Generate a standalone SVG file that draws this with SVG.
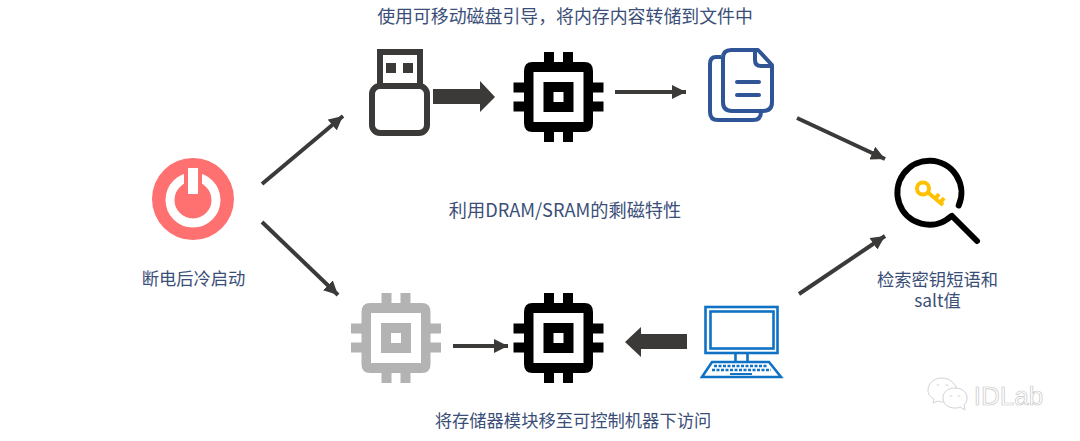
<svg xmlns="http://www.w3.org/2000/svg" xmlns:xlink="http://www.w3.org/1999/xlink" width="1080" height="441" viewBox="0 0 1080 441">
<style>
text{font-family:"Noto Sans CJK SC","Liberation Sans",sans-serif;font-size:17.3px;fill:#3A4E78;text-anchor:middle}
.conn{stroke:#3B3A39;stroke-width:4;fill:none}
.head{fill:#3B3A39}
.blue{fill:none;stroke:#2F5597;stroke-width:4;stroke-linejoin:round}
.mon{fill:none;stroke:#0F72C4;stroke-width:2.6}
</style>
<defs>
<marker id="ah" markerUnits="userSpaceOnUse" markerWidth="16" markerHeight="14" refX="14" refY="7" orient="auto"><path d="M0 0L14 7L0 14z" fill="#3B3A39"/></marker>
<path id="chip" fill-rule="evenodd" d="M-14.500-45H-4.500V-35H4.500V-45H14.500V-35H26Q34.500-35 34.500-26V-14.500H45V-4.500H34.500V4.500H45V14.500H34.500V26Q34.500 35 26 35H14.500V45H4.500V35H-4.500V45H-14.500V35H-26Q-34.500 35-34.500 26V14.500H-45V4.500H-34.500V-4.500H-45V-14.500H-34.500V-26Q-34.500-35-26-35H-14.500ZM-25-25V25H25V-25ZM-15-15H15V15H-15ZM-5-5V5H5V-5Z"/>
</defs>
<g id="connectors">
<path class="conn" marker-end="url(#ah)" d="M262 184L343 116"/>
<path class="conn" marker-end="url(#ah)" d="M262 222L338 295"/>
<path class="conn" marker-end="url(#ah)" d="M797 118L885 159"/>
<path class="conn" marker-end="url(#ah)" d="M799 294L885 236"/>
<path class="conn" marker-end="url(#ah)" d="M615 92L686 92"/>
<path class="conn" marker-end="url(#ah)" d="M453 346L508 346"/>
<path class="head" d="M433 89H480V81L495 97L480 112V104H433Z"/>
<path class="head" d="M687 334H641V327L625 342L641 357V349H687Z"/>
</g>
<g id="power">
<circle cx="193" cy="199" r="41" fill="#FF7070"/>
<circle cx="193" cy="200" r="23" fill="none" stroke="#fff" stroke-width="9"/>
<rect x="184" y="165" width="18" height="32" fill="#FF7070"/>
<rect x="188" y="168" width="10" height="26" fill="#fff"/>
<text x="193.500" y="284.500">断电后冷启动</text>
</g>
<g id="usb" fill="none" stroke="#3B3A39" stroke-width="6">
<path d="M380 85V52H420V85"/>
<rect x="372" y="86" width="55" height="47" rx="8"/>
<rect x="386" y="63" width="10" height="10" fill="#3B3A39" stroke="none"/>
<rect x="403" y="63" width="10" height="10" fill="#3B3A39" stroke="none"/>
</g>
<g id="chip-top"><use href="#chip" xlink:href="#chip" transform="translate(558.500 97)" fill="#000"/></g>
<g id="files">
<path class="blue" d="M721 57H716Q710 57 710 64V112Q710 120 718 120H753Q761 120 761 112"/>
<path class="blue" d="M731 50H758L772 65V102Q772 111 763 111H732Q723 111 723 102V58Q723 50 731 50Z"/>
<path class="blue" d="M755 50V60Q755 66 761 66H772"/>
<path class="blue" stroke-width="5" stroke-linecap="round" d="M737 82H759M737 95H759"/>
</g>
<g id="search">
<path d="M958.700 205.500A32 32 0 1 0 950.500 216.700" fill="none" stroke="#000" stroke-width="6" stroke-linecap="round"/>
<path d="M952 216L977 241" fill="none" stroke="#000" stroke-width="6" stroke-linecap="round"/>
<circle cx="923" cy="188.500" r="6" fill="none" stroke="#FFC000" stroke-width="4"/>
<path d="M928 192.500L943 205M935 199L939 194M940 203L944 198" fill="none" stroke="#FFC000" stroke-width="4"/>
<text y="285.500"><tspan x="937.500">检索密钥短语和</tspan><tspan x="937.500" dy="21">salt值</tspan></text>
</g>
<g id="chip-gray"><use href="#chip" xlink:href="#chip" transform="translate(396 338)" fill="#B3B3B3"/></g>
<g id="chip-bottom"><use href="#chip" xlink:href="#chip" transform="translate(558.500 338)" fill="#000"/></g>
<g id="monitor">
<rect class="mon" x="705.500" y="307" width="72" height="46"/>
<rect class="mon" x="710.500" y="311.500" width="63" height="37"/>
<path class="mon" d="M735.500 353V362M747.500 353V362M712 362H769L781 377H702Z"/>
<path d="M714 366H768M712 370H771" fill="none" stroke="#0F72C4" stroke-width="2.500" stroke-dasharray="3 1.500"/>
<path d="M730 374H752" fill="none" stroke="#0F72C4" stroke-width="2"/>
</g>
<g id="labels">
<text x="565" y="23" style="font-size:17.9px">使用可移动磁盘引导，将内存内容转储到文件中</text>
<text x="565" y="216.500" style="font-size:18.200px">利用DRAM/SRAM的剩磁特性</text>
<text x="573" y="426.500">将存储器模块移至可控制机器下访问</text>
</g>
<g id="watermark" fill="#fff" stroke="#D2D2D2" stroke-width="1">
<path d="M942 378C934 378 928 383 928 390C928 394 930 397 934 399L933 403L938 401C940 402 942 402 944 402C943 395 949 389 957 389C955 383 949 378 942 378Z"/>
<path d="M955 388C948 388 943 392 943 398C943 404 948 408 955 408C957 408 959 408 960 407L965 410L964 405C966 403 967 401 967 398C967 392 962 388 955 388Z"/>
<path d="M950 396h2M958 396h2M937 385h2M946 385h2" stroke-linecap="round"/>
<text x="1008.500" y="405" style="font-family:'Liberation Sans',sans-serif;font-size:26px;fill:#fff;stroke:#C8C8C8;stroke-width:.7">IDLab</text>
</g>
</svg>
